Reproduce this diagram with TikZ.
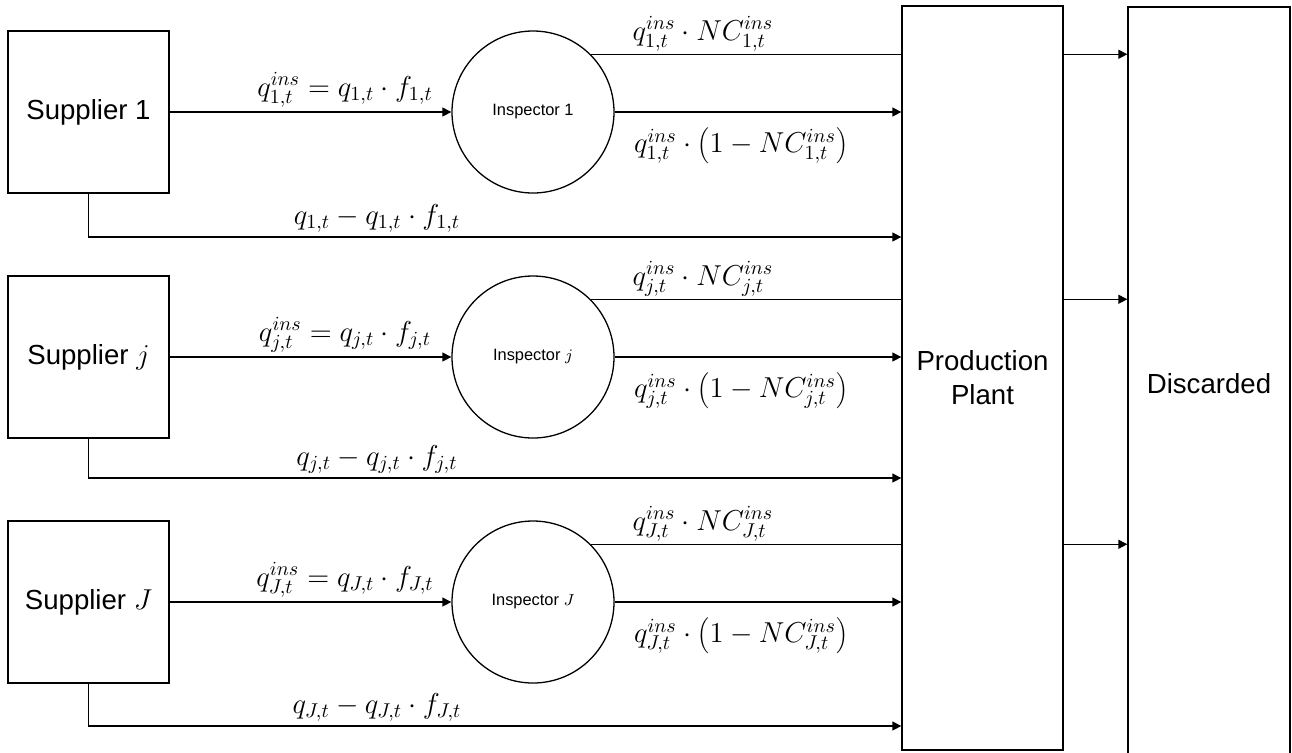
\documentclass[tikz,border=0pt]{standalone}
\usepackage{fontspec}
\setmainfont{Liberation Sans}
\usetikzlibrary{arrows.meta}
\begin{document}
\begin{tikzpicture}[x=0.5pt,y=-0.5pt,line width=0.65pt,
  box/.style={draw,rectangle,inner sep=0pt,font=\fontsize{13.8}{17}\selectfont,align=center},
  insp/.style={draw,circle,minimum size=81pt,inner sep=0pt,font=\fontsize{8.2}{10}\selectfont},
  arr/.style={-{Triangle[length=4.5pt,width=4.5pt]}},
  lab/.style={font=\fontsize{14.6}{17}\selectfont,inner sep=0pt}]
\useasboundingbox (0,0) rectangle (1292,752);
\clip (0,0) rectangle (1292,752);
\node[box,minimum width=80.5pt,minimum height=372pt] (plant) at (982.5,378) {Production\\Plant};
\node[box,minimum width=81pt,minimum height=376.5pt] (disc) at (1209,383.5) {Discarded};
\foreach \r/\y/\b/\k/\t in {1/112/237/1/1, 2/357/478/j/$j$, 3/602/726/J/$J$}{
  \node[box,minimum width=80.5pt,minimum height=81pt] (s\r) at (88.5,\y) {Supplier \t};
  \node[insp] (i\r) at (533,\y) {Inspector \t};
  \coordinate (b\r) at (0,\b);
  \draw[arr] (s\r) -- (i\r);
  \draw[arr] (i\r.east) -- (i\r.east -| plant.west);
  \draw (i\r.45) -- (i\r.45 -| plant.west);
  \draw[arr] (i\r.45 -| plant.east) -- (i\r.45 -| disc.west);
  \draw[arr] (s\r.south) |- (b\r -| plant.west);
  \node[lab,anchor=south] (li\r) at (345,\y-4) {$q^{ins}_{\k,t}=q_{\k,t}\cdot f_{\k,t}$};
  \node[lab,anchor=south] (lt\r) at (703,\y-60) {$q^{ins}_{\k,t}\cdot NC^{ins}_{\k,t}$};
  \node[lab,anchor=north] (lo\r) at (741,\y+15) {$q^{ins}_{\k,t}\cdot\left(1-NC^{ins}_{\k,t}\right)$};
  \node[lab,anchor=south] (lb\r) at (377,\b-4) {$q_{\k,t}-q_{\k,t}\cdot f_{\k,t}$};
}
\end{tikzpicture}
\end{document}
